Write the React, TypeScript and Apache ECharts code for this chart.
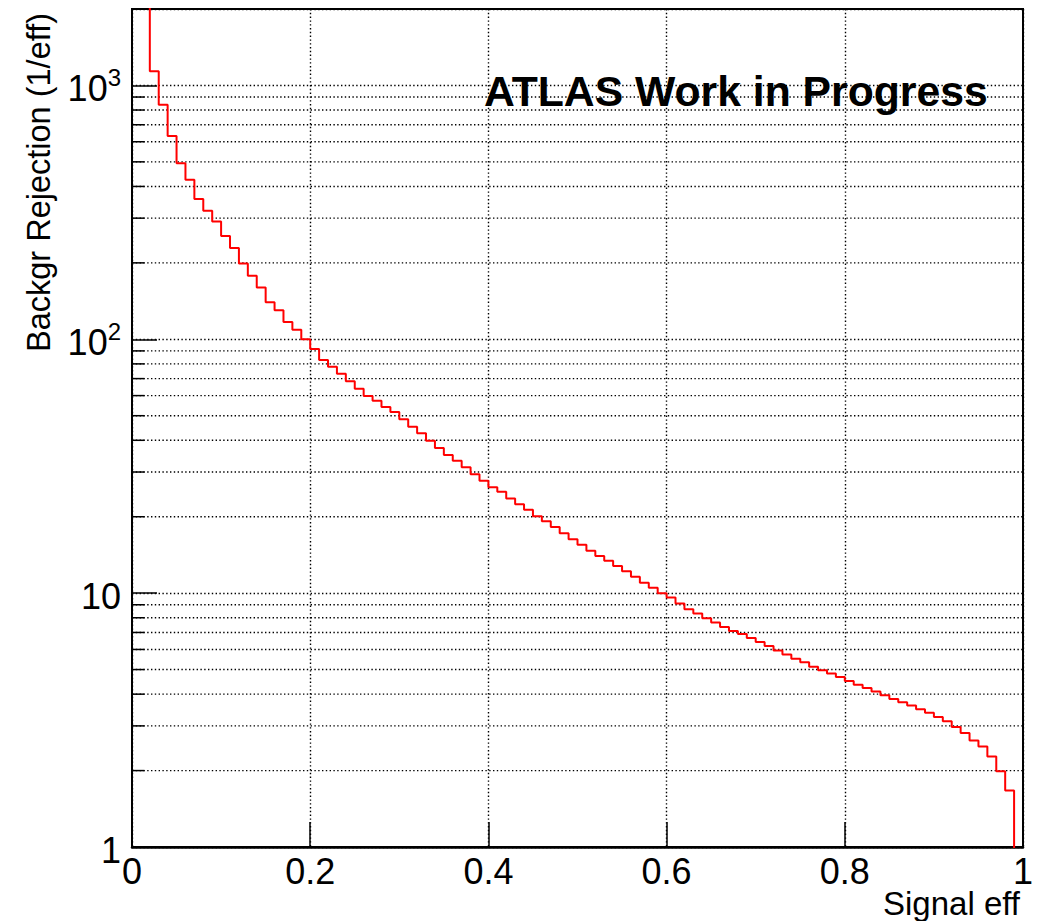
import React, { useEffect, useRef } from "react";
import * as echarts from "echarts";

// Histogram: background rejection (1/eff) per signal-efficiency bin (bin width 0.01)
const binWidth = 0.01;
const rejection = [
  5000, 2500, 1136, 839, 632, 494, 425, 357, 321, 291,
  255, 229, 199, 178, 160, 140, 130, 117, 109, 100,
  91.5, 82.9, 78.0, 73.2, 68.3, 63.9, 59.8, 57.3, 54.1, 51.7,
  48.4, 45.2, 42.6, 39.8, 37.3, 35.0, 33.2, 31.3, 29.4, 27.7,
  26.1, 25.1, 23.6, 22.4, 21.3, 20.1, 19.2, 18.2, 17.2, 16.3,
  15.5, 14.7, 14.0, 13.4, 12.8, 12.2, 11.6, 11.0, 10.5, 10.0,
  9.61, 9.10, 8.64, 8.31, 7.96, 7.66, 7.36, 7.10, 6.91, 6.66,
  6.42, 6.19, 5.95, 5.73, 5.52, 5.34, 5.13, 4.97, 4.82, 4.67,
  4.51, 4.36, 4.23, 4.10, 3.96, 3.83, 3.72, 3.61, 3.49, 3.38,
  3.25, 3.13, 2.97, 2.81, 2.63, 2.49, 2.27, 1.99, 1.67, 0.5,
];
const minorTicks = [
  2, 3, 4, 5, 6, 7, 8, 9,
  20, 30, 40, 50, 60, 70, 80, 90,
  200, 300, 400, 500, 600, 700, 800, 900,
  2000,
];
const xMin = 0;
const xMax = 1;
const yMin = 1;
const yMax = 2000;
const xTitle = "Signal eff";
const yTitle = "Backgr Rejection (1/eff)";
const watermark = "ATLAS Work in Progress";

const FONT = "'Liberation Sans', Arial, Helvetica, sans-serif";
const DOT_COLOR = "#000";
const DOT_DASH = [1.4, 2.4];
const DOT_WIDTH = 1.4;
const DOT = { color: DOT_COLOR, width: DOT_WIDTH, type: DOT_DASH as any };

export default function App() {
  const ref = useRef<HTMLDivElement>(null);
  useEffect(() => {
    if (!ref.current) return;
    const chart = echarts.init(ref.current, undefined, { renderer: "svg" });
    const stepData: [number, number][] = rejection.map((v, i) => [i * binWidth, v]);
    stepData.push([xMax, rejection[rejection.length - 1]]);

    chart.setOption({
      animation: false,
      backgroundColor: "#fff",
      textStyle: { fontFamily: FONT },
      grid: {
        left: 132,
        top: 9,
        width: 891,
        height: 838,
        containLabel: false,
        outerBoundsMode: "none",
        show: true,
        borderColor: "#000",
        borderWidth: 2,
        backgroundColor: "transparent",
      },
      xAxis: {
        type: "value",
        min: xMin,
        max: xMax,
        interval: 0.2,
        axisLine: { show: true, lineStyle: { color: "#000", width: 2.5 } },
        axisTick: { show: true, inside: true, length: 25, lineStyle: { color: "#000", width: 1.5 } },
        splitLine: { show: true, lineStyle: DOT },
        axisLabel: {
          color: "#000",
          fontSize: 36,
          lineHeight: 36,
          margin: 6,
          fontFamily: FONT,
        },
      },
      yAxis: {
        type: "log",
        logBase: 10,
        min: yMin,
        max: yMax,
        axisLine: { show: true, lineStyle: { color: "#000", width: 2 } },
        axisTick: { show: true, inside: true, length: 25, lineStyle: { color: "#000", width: 1.5 } },
        splitLine: { show: true, lineStyle: DOT },
        axisLabel: {
          color: "#000",
          margin: 11,
          showMaxLabel: false,
          fontFamily: FONT,
          formatter: (v: number) => {
            const e = Math.round(Math.log10(v));
            if (Math.abs(Math.log10(v) - e) > 0.01) return "";
            if (e === 0) return "{b|1}";
            if (e === 1) return "{b|10}";
            return `{b|10}{sup|${e}}`;
          },
          rich: {
            b: { fontSize: 36, lineHeight: 40, padding: [6, 0, 0, 0], color: "#000", fontFamily: FONT },
            sup: { fontSize: 24, lineHeight: 24, verticalAlign: "top", color: "#000", fontFamily: FONT },
          },
        },
      },
      series: [
        {
          type: "custom",
          coordinateSystem: "cartesian2d",
          silent: true,
          z: 1,
          data: minorTicks.map((v) => [xMin, v]),
          renderItem: (params: any, api: any) => {
            const cs = params.coordSys;
            const y = api.coord([xMin, api.value(1)])[1];
            return {
              type: "group",
              children: [
                {
                  type: "line",
                  shape: { x1: cs.x, y1: y, x2: cs.x + cs.width, y2: y },
                  style: { stroke: DOT_COLOR, lineWidth: DOT_WIDTH, lineDash: DOT_DASH },
                },
                {
                  type: "line",
                  shape: { x1: cs.x, y1: y, x2: cs.x + 12.5, y2: y },
                  style: { stroke: "#000", lineWidth: 1.5 },
                },
              ],
            };
          },
        },
        {
          type: "line",
          step: "end",
          z: 3,
          clip: true,
          showSymbol: false,
          symbol: "none",
          lineStyle: { color: "#ff0000", width: 2 },
          data: stepData,
        },
      ],
      graphic: [
        {
          type: "text",
          x: 39,
          y: 13,
          rotation: Math.PI / 2,
          style: {
            text: yTitle,
            fontSize: 32.5,
            fontFamily: FONT,
            fill: "#000",
            textAlign: "right",
            textVerticalAlign: "middle",
          },
        },
        {
          type: "text",
          x: 1020,
          y: 903,
          style: {
            text: xTitle,
            fontSize: 33,
            fontFamily: FONT,
            fill: "#000",
            textAlign: "right",
            textVerticalAlign: "middle",
          },
        },
        {
          type: "text",
          x: 484,
          y: 91,
          z: 10,
          style: {
            text: watermark,
            fontSize: 42.7,
            fontWeight: "bold",
            fontFamily: FONT,
            fill: "#000",
            textAlign: "left",
            textVerticalAlign: "middle",
          },
        },
      ],
    });
    return () => chart.dispose();
  }, []);
  return (
    <div
      ref={ref}
      style={{ position: "absolute", left: 0, top: 0, width: 1045, height: 921, background: "#fff" }}
    />
  );
}
